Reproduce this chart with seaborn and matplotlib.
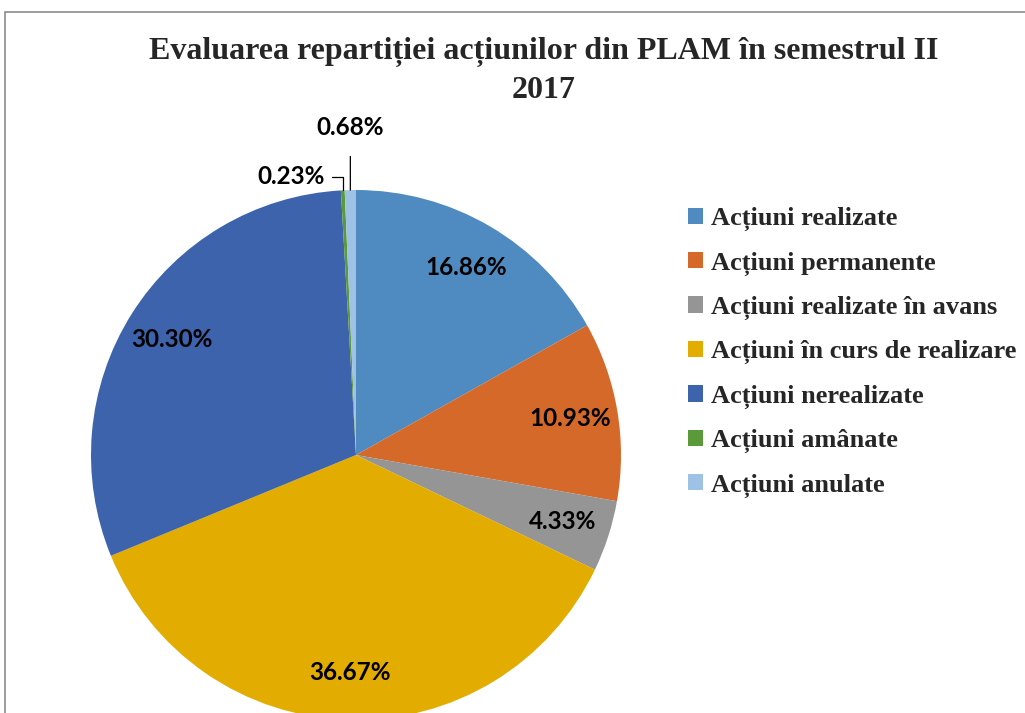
import matplotlib
matplotlib.use("Agg")
import matplotlib.pyplot as plt
import matplotlib.patches as patches
import numpy as np
import seaborn as sns

categorii = ["Acțiuni realizate", "Acțiuni permanente", "Acțiuni realizate în avans",
             "Acțiuni în curs de realizare", "Acțiuni nerealizate", "Acțiuni amânate",
             "Acțiuni anulate"]
procente = [16.86, 10.93, 4.33, 36.67, 30.30, 0.23, 0.68]
culori = ["#4F8BC0", "#D5692A", "#959595", "#E2AC00", "#3C63AB", "#5A9A3A", "#9EC1E6"]
titlu = "Evaluarea repartiției acțiunilor din PLAM în semestrul II\n2017"

sns.set_style("white")
plt.rcParams["font.family"] = ["Liberation Serif", "DejaVu Serif"]

W, H = 1025, 713
fig = plt.figure(figsize=(W / 100, H / 100), dpi=100)

# frame around the chart area (like the excel chart border)
fig.patches.append(patches.Rectangle((5 / W, -0.1), 1.2, (H - 12) / H + 0.1,
                                     transform=fig.transFigure, fill=False,
                                     edgecolor="#8c8c8c", linewidth=1.2))

cx, cy, r = 356, 455, 265
ax = fig.add_axes([(cx - r) / W, (H - cy - r) / H, 2 * r / W, 2 * r / H])
ax.axis("off")

pal = sns.color_palette(culori)
wedges, _ = ax.pie(procente, colors=pal, startangle=90, counterclock=False,
                   radius=1, wedgeprops=dict(linewidth=0))
ax.set_xlim(-1, 1)
ax.set_ylim(-1, 1)

lbl_font = dict(family=["Lato", "DejaVu Sans"], fontweight="bold", fontsize=17.5, color="black")
for w, p in zip(wedges, procente):
    mid = np.deg2rad((w.theta1 + w.theta2) / 2)
    txt = f"{p:.2f}%"
    x0, y0 = np.cos(mid), np.sin(mid)
    if p >= 1:
        ax.text(0.82 * x0, 0.82 * y0, txt, ha="center", va="center", **lbl_font)
    elif p > 0.5:
        ax.annotate(txt, xy=(x0, y0), xytext=(x0, 1.235), ha="center", va="center",
                    arrowprops=dict(arrowstyle="-", color="black", lw=0.9,
                                    shrinkA=10, shrinkB=0), **lbl_font)
    else:
        ax.annotate(txt, xy=(x0, y0), xytext=(-0.245, 1.05), ha="center", va="center",
                    arrowprops=dict(arrowstyle="-", color="black", lw=0.9,
                                    connectionstyle="angle,angleA=0,angleB=90,rad=0",
                                    shrinkA=3, shrinkB=0), **lbl_font)

fig.text(544 / W, 1 - 71 / H, titlu, ha="center", va="center", fontsize=23,
         fontweight="bold", linespacing=1.42)

handles = [patches.Patch(facecolor=c, edgecolor="none") for c in pal]
fig.legend(handles, categorii, loc="upper left", bbox_to_anchor=(688 / W, 1 - 207 / H),
           frameon=False, prop=dict(family="Liberation Serif", weight="bold", size=19),
           handlelength=0.57, handleheight=0.57, handletextpad=0.3,
           labelspacing=0.77, borderpad=0, borderaxespad=0)

fig.savefig("out.png", dpi=100)
